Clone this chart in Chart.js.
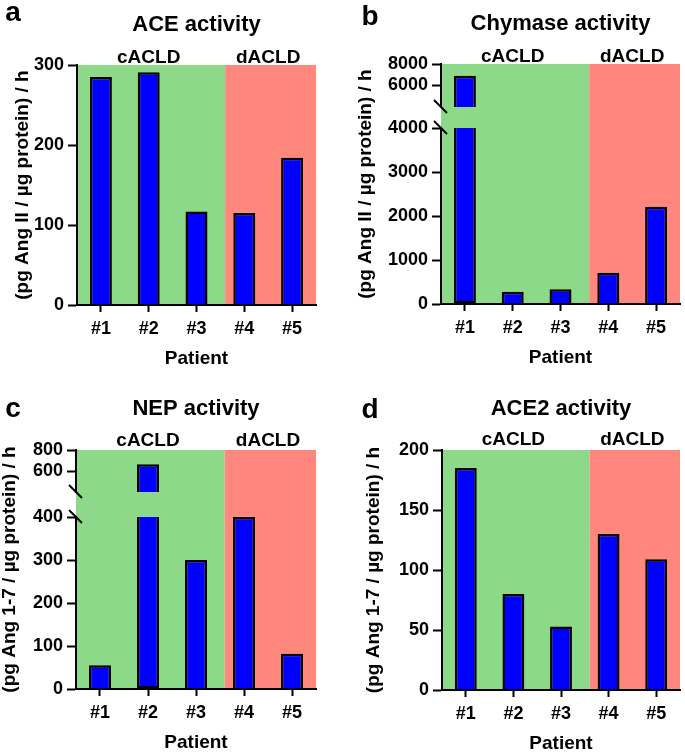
<!DOCTYPE html>
<html>
<head>
<meta charset="utf-8">
<script src="https://cdn.jsdelivr.net/npm/chart.js"></script>
<style>
  body { margin: 0; background: #fff; }
  #fig { position: relative; width: 685px; height: 753px; background: #fff; }
  .panel { position: absolute; }
</style>
</head>
<body>
<div id="fig">
  <div class="panel" style="left:0;top:0;width:342px;height:376px"><canvas id="panelA"></canvas></div>
  <div class="panel" style="left:342px;top:0;width:343px;height:376px"><canvas id="panelB"></canvas></div>
  <div class="panel" style="left:0;top:376px;width:342px;height:377px"><canvas id="panelC"></canvas></div>
  <div class="panel" style="left:342px;top:376px;width:343px;height:377px"><canvas id="panelD"></canvas></div>
</div>
<script>
// data
const patients = ['#1', '#2', '#3', '#4', '#5'];
const groupNames = ['cACLD', 'dACLD'];
const groupSpans = [[0, 2], [3, 4]];   // first/last patient index of each group
const groupSplit = 2.6;                 // shading changes colour here (category units)

const aceValues = [285, 291, 117, 115, 184];
const chymaseValues = [6900, 280, 335, 710, 2210];
const nepValues = [55, 665, 300, 400, 82];
const ace2Values = [185, 80, 53, 130, 109];

const aceTicks = [0, 100, 200, 300];
const chymaseTicks = [0, 1000, 2000, 3000, 4000, 6000, 8000];
const nepTicks = [0, 100, 200, 300, 400, 600, 800];
const ace2Ticks = [0, 50, 100, 150, 200];

// axis ranges (broken axes have a low and a high segment)
const aceRange = [0, 300];
const ace2Range = [0, 200];
const chymaseLow = [0, 4000];
const chymaseHigh = [4000, 8000];
const nepLow = [0, 400];
const nepHigh = [400, 800];

const FONT = "'Liberation Sans', Arial, Helvetica, sans-serif";
const GREEN = '#8dd98a';
const RED = '#ff877e';
const BLUE = '#0000ff';

Chart.defaults.font.family = FONT;
Chart.defaults.color = '#000';

// shading, titles, group labels, y title and break marks
const decor = {
  id: 'decor',
  beforeDraw(chart, args, o) {
    const { ctx, chartArea: a } = chart;
    const split = chart.scales.x.getPixelForValue(groupSplit);
    ctx.save();
    ctx.fillStyle = GREEN;
    ctx.fillRect(a.left, a.top, split - a.left, a.bottom - a.top);
    ctx.fillStyle = RED;
    ctx.fillRect(split, a.top, a.right - split, a.bottom - a.top);
    ctx.restore();
  },
  afterDraw(chart, args, o) {
    const { ctx, chartArea: a, scales } = chart;
    const x = scales.x;
    ctx.save();
    ctx.fillStyle = '#000';
    ctx.textAlign = 'center';
    ctx.textBaseline = 'alphabetic';
    ctx.font = `bold 28px ${FONT}`;
    ctx.fillText(o.letter, o.letterX, o.letterY);
    ctx.font = `bold 22px ${FONT}`;
    ctx.fillText(o.title, (a.left + a.right) / 2, o.titleY);
    ctx.font = `bold 19px ${FONT}`;
    groupNames.forEach((g, i) => {
      const [s, e] = groupSpans[i];
      const cx = (x.getPixelForValue(s) + x.getPixelForValue(e)) / 2;
      ctx.fillText(g, cx, a.top - o.groupGap);
    });
    ctx.translate(o.yTitleX, (a.top + a.bottom) / 2);
    ctx.rotate(-Math.PI / 2);
    ctx.textBaseline = 'middle';
    ctx.fillText(o.yTitle, 0, 0);
    ctx.restore();

    if (scales.yGap) {
      const g = scales.yGap;
      ctx.save();
      ctx.strokeStyle = '#000';
      ctx.lineWidth = 2;
      [g.top, g.bottom].forEach(y => {
        ctx.beginPath();
        ctx.moveTo(a.left - 7, y - 7);
        ctx.lineTo(a.left + 6, y + 6);
        ctx.stroke();
      });
      ctx.restore();
    }
  }
};

const yAxis = (range, tickList, upper, extra) => Object.assign({
  position: 'left',
  min: range[0],
  max: range[1],
  afterFit: s => { s.width = 55; },
  afterBuildTicks: s => {
    s.ticks = tickList
      .filter(v => (upper ? v > s.min : v >= s.min) && v <= s.max)
      .map(v => ({ value: v }));
  },
  grid: { drawOnChartArea: false, tickLength: 9, tickWidth: 2, tickColor: '#000' },
  border: { color: '#000', width: 2 },
  ticks: { color: '#000', padding: 4, font: { size: 18, weight: 'bold' }, callback: v => String(v) }
}, extra || {});

const xAxis = () => ({
  type: 'category',
  offset: true,
  afterFit: s => { s.height = 63; },
  grid: { offset: false, drawOnChartArea: false, tickLength: 7, tickWidth: 2, tickColor: '#000' },
  border: { color: '#000', width: 2 },
  ticks: { color: '#000', padding: 6, autoSkip: false, maxRotation: 0, font: { size: 18, weight: 'bold' } },
  title: { display: true, text: 'Patient', color: '#000', font: { size: 19, weight: 'bold', lineHeight: 1 }, padding: { top: 0, bottom: 0 } }
});

const barStyle = {
  backgroundColor: BLUE,
  borderColor: '#000',
  borderWidth: 2.5,
  barPercentage: 0.46,
  categoryPercentage: 1,
  grouped: false
};

const panels = [
  { id: 'panelA', letter: 'a', title: 'ACE activity', yTitle: '(pg Ang II / µg protein) / h',
    values: aceValues, ticks: aceTicks, range: aceRange,
    pad: { top: 65, right: 26, bottom: 8, left: 22 },
    letterX: 13, letterY: 21, titleY: 31, groupGap: 2, yTitleX: 23 },
  { id: 'panelB', letter: 'b', title: 'Chymase activity', yTitle: '(pg Ang II / µg protein) / h',
    values: chymaseValues, ticks: chymaseTicks, low: chymaseLow, high: chymaseHigh, weights: [176, 21, 43],
    pad: { top: 64, right: 5, bottom: 9, left: 44 },
    letterX: 28, letterY: 25, titleY: 30, groupGap: 2, yTitleX: 24 },
  { id: 'panelC', letter: 'c', title: 'NEP activity', yTitle: '(pg Ang 1-7 / µg protein) / h',
    values: nepValues, ticks: nepTicks, low: nepLow, high: nepHigh, weights: [172, 25, 42],
    pad: { top: 74, right: 26, bottom: 1, left: 21 },
    letterX: 13, letterY: 41, titleY: 39, groupGap: 4, yTitleX: 10 },
  { id: 'panelD', letter: 'd', title: 'ACE2 activity', yTitle: '(pg Ang 1-7 / µg protein) / h',
    values: ace2Values, ticks: ace2Ticks, range: ace2Range,
    pad: { top: 74, right: 5, bottom: 0, left: 45 },
    letterX: 28, letterY: 42, titleY: 39, groupGap: 5, yTitleX: 32 }
];

panels.forEach(p => {
  let datasets, scales;
  if (p.low) {
    const cut = p.low[1];
    datasets = [
      Object.assign({}, barStyle, {
        data: p.values.map(v => Math.min(v, cut)),
        yAxisID: 'y',
        borderSkipped: c => (p.values[c.dataIndex] > cut ? 'top' : 'start')
      }),
      Object.assign({}, barStyle, {
        data: p.values.map(v => (v > p.high[0] ? [p.high[0], v] : null)),
        yAxisID: 'yTop'
      })
    ];
    scales = {
      x: xAxis(),
      y: yAxis(p.low, p.ticks, false, { stack: 'v', stackWeight: p.weights[0] }),
      yGap: { type: 'linear', position: 'left', display: false, min: 0, max: 1, stack: 'v', stackWeight: p.weights[1] },
      yTop: yAxis(p.high, p.ticks, true, { stack: 'v', stackWeight: p.weights[2] })
    };
  } else {
    datasets = [Object.assign({}, barStyle, { data: p.values, yAxisID: 'y' })];
    scales = { x: xAxis(), y: yAxis(p.range, p.ticks, false) };
  }

  new Chart(document.getElementById(p.id), {
    type: 'bar',
    data: { labels: patients, datasets },
    options: {
      responsive: true,
      maintainAspectRatio: false,
      animation: false,
      layout: { padding: p.pad },
      scales,
      plugins: {
        legend: { display: false },
        tooltip: { enabled: false },
        decor: p
      }
    },
    plugins: [decor]
  });
});
</script>
</body>
</html>
